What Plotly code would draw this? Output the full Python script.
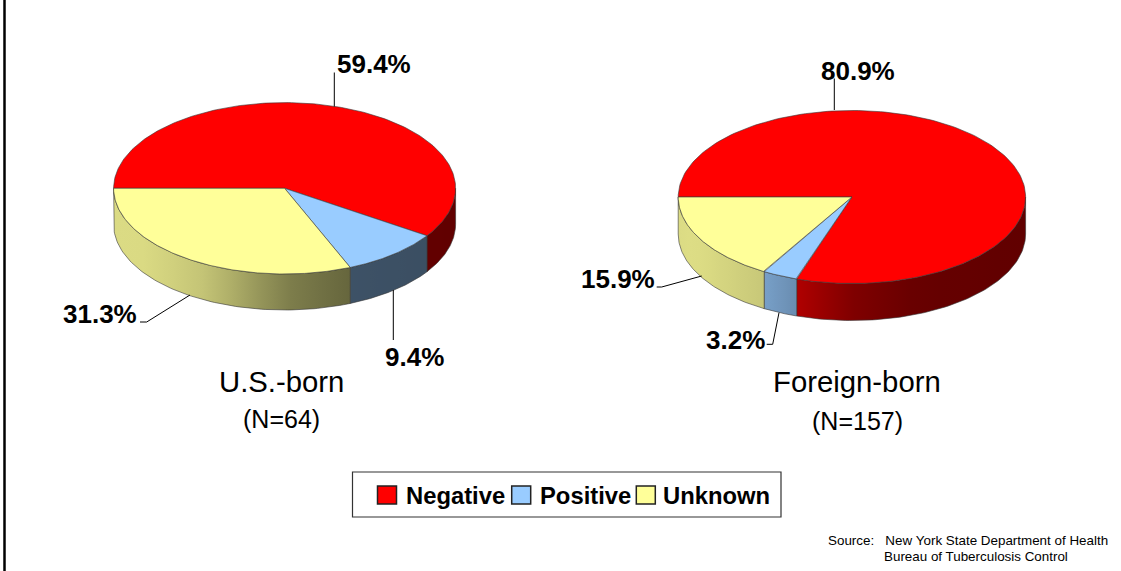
import numpy as np
import plotly.graph_objects as go

# ---- data ----
categories = ["Negative", "Positive", "Unknown"]
us_values = [59.4, 9.4, 31.3]
foreign_values = [80.9, 3.2, 15.9]
us_title = "U.S.-born"
us_n = "(N=64)"
foreign_title = "Foreign-born"
foreign_n = "(N=157)"
source_lines = ["Source:   New York State Department of Health", "Bureau of Tuberculosis Control"]

# ---- style ----
colors = ["#FF0000", "#99CCFF", "#FFFF99"]
edge = "rgba(55,55,55,0.75)"
FONT = "Liberation Sans, Arial, sans-serif"
SHADE_X = [0.0, 0.05, 0.25, 0.34, 0.5, 0.69, 1.0]
SHADE_Y = [0.86, 0.87, 0.78, 0.69, 0.50, 0.40, 0.38]

pies = [
    dict(values=us_values, cx=284.6, cy=188.3, rx=171.0, ry=85.7, depth=36.0, skew=0.0),
    dict(values=foreign_values, cx=851.9, cy=197.0, rx=173.7, ry=86.5, depth=37.0, skew=2.9),
]


def hex_rgb(h):
    return [int(h[i:i + 2], 16) for i in (1, 3, 5)]


def shaded(base, f):
    s = float(np.interp(f, SHADE_X, SHADE_Y))
    r, g, b = hex_rgb(base)
    return f"rgb({r * s:.0f},{g * s:.0f},{b * s:.0f})"


def ell(p, t_deg, drop=0.0):
    """Clockwise angle from 9 o'clock to a point on the pie's rim."""
    t = np.radians(np.asarray(t_deg, dtype=float))
    t = t + np.radians(p["skew"]) * np.sin(t)
    return p["cx"] - p["rx"] * np.cos(t), p["cy"] - p["ry"] * np.sin(t) + drop


fig = go.Figure()

for p in pies:
    total = sum(p["values"])
    cuts = np.concatenate([[0.0], np.cumsum(p["values"]) / total * 360.0])
    left = p["cx"] - p["rx"]
    width = 2 * p["rx"]
    # walls first, only the near half of the rim is visible
    for i, name in enumerate(categories):
        a0, a1 = max(cuts[i], 180.0), min(cuts[i + 1], 360.0)
        if a1 <= a0:
            continue
        t = np.linspace(a0, a1, 90)
        xt, yt = ell(p, t)
        xb, yb = ell(p, t[::-1], p["depth"])
        xs = np.concatenate([xt, xb, xt[:1]])
        ys = np.concatenate([yt, yb, yt[:1]])
        x0, x1 = float(xs.min()), float(xs.max())
        stops = np.linspace(0, 1, 9)
        scale = [[float(s), shaded(colors[i], (x0 + s * (x1 - x0) - left) / width)] for s in stops]
        fig.add_trace(go.Scatter(
            x=xs, y=ys, mode="lines", fill="toself",
            fillgradient=dict(type="horizontal", colorscale=scale, start=x0, stop=x1),
            line=dict(color=edge, width=0.8), hoverinfo="skip", showlegend=False,
        ))
    # top faces
    for i, name in enumerate(categories):
        t = np.linspace(cuts[i], cuts[i + 1], 200)
        xt, yt = ell(p, t)
        xs = np.concatenate([[p["cx"]], xt, [p["cx"]]])
        ys = np.concatenate([[p["cy"]], yt, [p["cy"]]])
        fig.add_trace(go.Scatter(
            x=xs, y=ys, mode="lines", fill="toself", fillcolor=colors[i],
            line=dict(color=edge, width=0.8), name=name,
            hovertext=f"{name}: {p['values'][i]:.1f}%", hoverinfo="text", showlegend=False,
        ))

# leader lines
leaders = [
    [(334.3, 106.5), (334.3, 72.5)],
    [(393.3, 290), (393.3, 340)],
    [(190, 295), (146.7, 322), (140, 322)],
    [(834.3, 110), (834.3, 78.5)],
    [(701.7, 276), (661.7, 287), (656.7, 287)],
    [(779, 312.7), (772.7, 344.3), (766.7, 344.3)],
]
for seg in leaders:
    fig.add_trace(go.Scatter(x=[q[0] for q in seg], y=[q[1] for q in seg], mode="lines",
                             line=dict(color="#000000", width=1), hoverinfo="skip", showlegend=False))

ann = []


def text(x, y, s, size, bold=False, anchor="center"):
    ann.append(dict(x=x, y=y, xref="x", yref="y", text=f"<b>{s}</b>" if bold else s, showarrow=False,
                    xanchor=anchor, yanchor="middle", align="left",
                    font=dict(family=FONT, size=size, color="#000000")))


# value labels
text(373.7, 64, f"{us_values[0]:.1f}%", 26, True)
text(414.5, 357, f"{us_values[1]:.1f}%", 26, True)
text(100, 314, f"{us_values[2]:.1f}%", 26, True)
text(857.5, 70.5, f"{foreign_values[0]:.1f}%", 26, True)
text(735, 339.5, f"{foreign_values[1]:.1f}%", 26, True)
text(618, 278.5, f"{foreign_values[2]:.1f}%", 26, True)

# pie titles
text(281, 381.5, us_title, 29.3)
text(281, 418.5, us_n, 25)
text(857, 381.5, foreign_title, 29.3)
text(857, 420.5, foreign_n, 25)

# legend
shapes = [
    dict(type="line", x0=4.5, x1=4.5, y0=0, y1=571, xref="x", yref="y", line=dict(color="#000000", width=2.5)),
    dict(type="rect", x0=352.5, x1=781, y0=472, y1=517, xref="x", yref="y",
         line=dict(color="#333333", width=1.2), fillcolor="#FFFFFF", layer="below"),
]
swatch_x = [377.5, 511.7, 636.3]
label_x = [404, 538, 661]
for i, name in enumerate(categories):
    shapes.append(dict(type="rect", x0=swatch_x[i], x1=swatch_x[i] + 19, y0=486, y1=504, xref="x", yref="y",
                       line=dict(color="#222222", width=1.5), fillcolor=colors[i]))
    text(label_x[i], 495, name, 23.8, True, "left")

# source
text(826, 540, source_lines[0].replace(" ", "&nbsp;"), 13.4, False, "left")
text(882, 556, source_lines[1], 13.4, False, "left")

fig.update_layout(
    width=1121, height=571, margin=dict(l=0, r=0, t=0, b=0),
    paper_bgcolor="#FFFFFF", plot_bgcolor="#FFFFFF", showlegend=False,
    xaxis=dict(range=[0, 1121], visible=False, fixedrange=True),
    yaxis=dict(range=[571, 0], visible=False, fixedrange=True),
    shapes=shapes, annotations=ann,
)
fig.write_html("out.html", config={"displayModeBar": False},
               post_script="document.body.style.margin='0';document.documentElement.style.overflow='hidden';")
